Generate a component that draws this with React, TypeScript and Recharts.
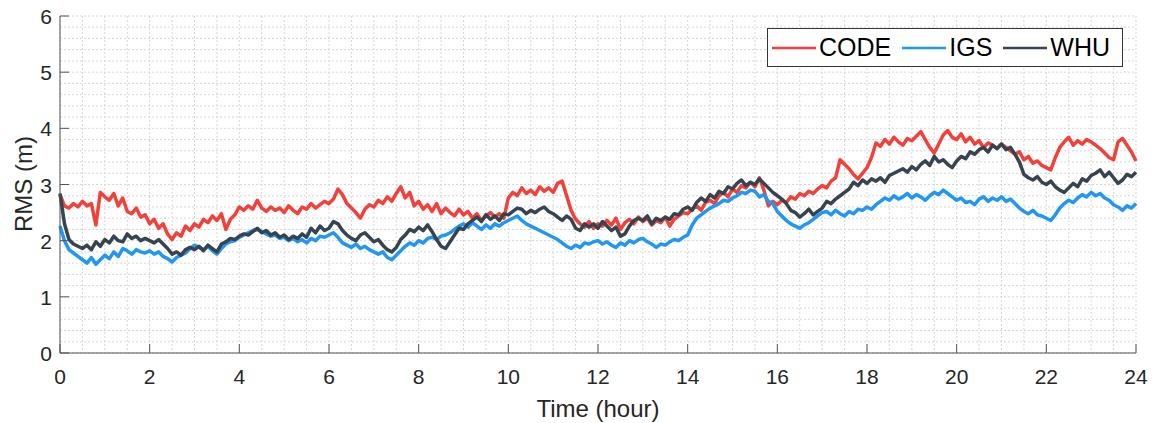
import { CartesianGrid, Line, LineChart, XAxis, YAxis } from "recharts";

// RMS per epoch, one value every 0.1 hour from 0 to 24 h
const codeRms = [
  2.82, 2.62, 2.58, 2.66, 2.60, 2.70, 2.62, 2.66, 2.28, 2.86,
  2.78, 2.72, 2.84, 2.62, 2.76, 2.52, 2.48, 2.58, 2.42, 2.46,
  2.30, 2.38, 2.22, 2.30, 2.12, 2.02, 2.14, 2.08, 2.26, 2.18,
  2.30, 2.24, 2.38, 2.32, 2.44, 2.36, 2.48, 2.20, 2.38, 2.46,
  2.60, 2.54, 2.62, 2.56, 2.72, 2.58, 2.52, 2.60, 2.54, 2.58,
  2.50, 2.62, 2.54, 2.48, 2.60, 2.56, 2.66, 2.58, 2.64, 2.70,
  2.66, 2.74, 2.92, 2.82, 2.66, 2.58, 2.50, 2.40, 2.56, 2.64,
  2.60, 2.72, 2.66, 2.78, 2.70, 2.84, 2.96, 2.76, 2.86, 2.62,
  2.70, 2.56, 2.64, 2.52, 2.66, 2.48, 2.58, 2.50, 2.44, 2.56,
  2.46, 2.52, 2.40, 2.48, 2.36, 2.44, 2.50, 2.42, 2.48, 2.40,
  2.76, 2.86, 2.80, 2.94, 2.84, 2.90, 2.82, 2.96, 2.88, 2.94,
  2.86, 3.02, 3.06, 2.80, 2.54, 2.38, 2.30, 2.24, 2.34, 2.22,
  2.30, 2.26, 2.36, 2.28, 2.40, 2.20, 2.32, 2.38, 2.30, 2.42,
  2.34, 2.40, 2.28, 2.36, 2.32, 2.42, 2.26, 2.38, 2.44, 2.50,
  2.48, 2.56, 2.62, 2.54, 2.68, 2.72, 2.66, 2.80, 2.86, 2.78,
  2.92, 2.86, 2.98, 2.94, 3.04, 2.96, 3.12, 2.90, 2.62, 2.70,
  2.64, 2.72, 2.68, 2.78, 2.74, 2.84, 2.80, 2.88, 2.84, 2.92,
  2.98, 2.94, 3.06, 3.12, 3.44, 3.36, 3.28, 3.18, 3.10, 3.20,
  3.30, 3.48, 3.74, 3.68, 3.80, 3.72, 3.84, 3.76, 3.70, 3.82,
  3.78, 3.86, 3.94, 3.80, 3.66, 3.56, 3.72, 3.88, 3.96, 3.84,
  3.80, 3.90, 3.76, 3.84, 3.72, 3.78, 3.66, 3.74, 3.70, 3.64,
  3.72, 3.66, 3.60, 3.54, 3.58, 3.44, 3.50, 3.38, 3.42, 3.34,
  3.30, 3.26, 3.48, 3.66, 3.76, 3.84, 3.70, 3.78, 3.72, 3.80,
  3.76, 3.70, 3.64, 3.56, 3.48, 3.44, 3.76, 3.82, 3.70, 3.58,
  3.42,
];

const igsRms = [
  2.26, 2.00, 1.84, 1.78, 1.72, 1.66, 1.60, 1.70, 1.58, 1.66,
  1.74, 1.68, 1.80, 1.72, 1.86, 1.82, 1.76, 1.84, 1.80, 1.78,
  1.82, 1.76, 1.80, 1.72, 1.68, 1.62, 1.70, 1.74, 1.78, 1.86,
  1.92, 1.88, 1.84, 1.90, 1.82, 1.76, 1.86, 1.94, 1.98, 2.00,
  2.06, 2.10, 2.14, 2.18, 2.20, 2.16, 2.12, 2.08, 2.10, 2.04,
  2.06, 2.00, 2.04, 1.98, 2.02, 1.96, 2.04, 2.00, 2.08, 2.06,
  2.10, 2.14, 2.06, 1.96, 1.92, 1.88, 1.94, 1.86, 1.90, 1.84,
  1.80, 1.76, 1.80, 1.70, 1.66, 1.74, 1.82, 1.90, 1.96, 1.92,
  2.00, 1.96, 2.04, 2.06, 2.02, 2.08, 2.10, 2.14, 2.20, 2.26,
  2.30, 2.24, 2.32, 2.26, 2.20, 2.28, 2.22, 2.30, 2.26, 2.32,
  2.36, 2.40, 2.44, 2.36, 2.30, 2.26, 2.22, 2.18, 2.14, 2.10,
  2.06, 2.02, 1.96, 1.90, 1.86, 1.92, 1.88, 1.96, 1.94, 1.98,
  2.00, 1.94, 1.98, 1.92, 1.88, 1.96, 1.92, 2.00, 1.96, 2.02,
  2.04, 1.98, 1.94, 1.88, 1.94, 1.92, 1.98, 2.02, 2.00, 2.06,
  2.10, 2.28, 2.40, 2.46, 2.52, 2.58, 2.62, 2.66, 2.72, 2.70,
  2.76, 2.80, 2.86, 2.84, 2.90, 2.88, 2.78, 2.82, 2.70, 2.66,
  2.52, 2.44, 2.36, 2.30, 2.26, 2.22, 2.28, 2.32, 2.38, 2.44,
  2.50, 2.52, 2.46, 2.54, 2.48, 2.44, 2.52, 2.48, 2.56, 2.54,
  2.60, 2.56, 2.64, 2.70, 2.76, 2.72, 2.80, 2.74, 2.78, 2.84,
  2.76, 2.82, 2.78, 2.72, 2.80, 2.86, 2.82, 2.90, 2.84, 2.78,
  2.72, 2.76, 2.68, 2.70, 2.64, 2.74, 2.78, 2.70, 2.76, 2.72,
  2.78, 2.70, 2.74, 2.66, 2.58, 2.52, 2.48, 2.54, 2.46, 2.44,
  2.40, 2.36, 2.46, 2.58, 2.66, 2.72, 2.68, 2.76, 2.82, 2.78,
  2.86, 2.80, 2.84, 2.76, 2.72, 2.64, 2.60, 2.54, 2.62, 2.58,
  2.66,
];

const whuRms = [
  2.84, 2.30, 2.02, 1.94, 1.90, 1.86, 1.92, 1.84, 1.98, 1.90,
  2.02, 1.96, 2.08, 2.00, 1.98, 2.12, 2.04, 2.08, 2.00, 2.04,
  2.00, 1.96, 2.02, 1.94, 1.86, 1.76, 1.80, 1.74, 1.84, 1.88,
  1.84, 1.90, 1.82, 1.92, 1.86, 1.80, 1.94, 1.98, 2.04, 2.02,
  2.08, 2.12, 2.10, 2.16, 2.22, 2.14, 2.18, 2.10, 2.14, 2.06,
  2.10, 2.02, 2.08, 2.04, 2.12, 2.06, 2.22, 2.14, 2.26, 2.18,
  2.22, 2.34, 2.30, 2.18, 2.10, 2.04, 2.00, 2.10, 2.14, 2.06,
  1.98, 2.02, 1.92, 1.84, 1.80, 1.88, 2.02, 2.10, 2.20, 2.16,
  2.24, 2.18, 2.28, 2.16, 2.02, 1.90, 1.86, 1.98, 2.10, 2.22,
  2.20, 2.30, 2.36, 2.42, 2.34, 2.46, 2.38, 2.44, 2.36, 2.48,
  2.46, 2.52, 2.58, 2.56, 2.48, 2.54, 2.50, 2.56, 2.60, 2.52,
  2.48, 2.42, 2.36, 2.44, 2.38, 2.22, 2.18, 2.30, 2.24, 2.30,
  2.22, 2.34, 2.26, 2.18, 2.24, 2.08, 2.12, 2.26, 2.36, 2.40,
  2.36, 2.44, 2.30, 2.40, 2.36, 2.42, 2.38, 2.48, 2.46, 2.56,
  2.60, 2.54, 2.68, 2.76, 2.70, 2.82, 2.76, 2.88, 2.84, 2.96,
  2.92, 3.02, 3.08, 2.98, 3.04, 3.00, 3.10, 3.02, 2.94, 2.86,
  2.80, 2.74, 2.66, 2.54, 2.50, 2.42, 2.48, 2.56, 2.46, 2.52,
  2.58, 2.70, 2.66, 2.74, 2.80, 2.86, 2.92, 3.04, 2.98, 3.08,
  3.02, 3.10, 3.06, 3.12, 3.04, 3.16, 3.20, 3.24, 3.28, 3.22,
  3.32, 3.26, 3.36, 3.42, 3.34, 3.50, 3.40, 3.44, 3.36, 3.30,
  3.42, 3.50, 3.46, 3.58, 3.54, 3.62, 3.66, 3.58, 3.70, 3.64,
  3.72, 3.62, 3.66, 3.54, 3.40, 3.18, 3.12, 3.08, 3.14, 3.04,
  3.00, 3.06, 2.96, 2.90, 2.86, 2.94, 3.02, 2.96, 3.10, 3.06,
  3.16, 3.20, 3.26, 3.14, 3.22, 3.12, 3.02, 3.08, 3.18, 3.14,
  3.22,
];

const xTicks = [0, 2, 4, 6, 8, 10, 12, 14, 16, 18, 20, 22, 24];
const yTicks = [0, 1, 2, 3, 4, 5, 6];
const xMinor = Array.from({ length: 49 }, (_, i) => i * 0.5);
const yMinor = Array.from({ length: 31 }, (_, i) => Math.round(i * 2) / 10);

const series = [
  { key: "CODE", color: "#f2413a" },
  { key: "IGS", color: "#2196f3" },
  { key: "WHU", color: "#37444f" },
];

const data = codeRms.map((v, i) => ({
  time: i / 10,
  CODE: v,
  IGS: igsRms[i],
  WHU: whuRms[i],
}));

const FONT = "'Liberation Sans', Arial, sans-serif";
const AXIS = "#555";
const TXT = "#262626";

const BottomTick = (props: any) => {
  const { x, y, payload } = props;
  return (
    <g>
      <line x1={x} y1={y} x2={x} y2={y - 9} stroke={AXIS} />
      <text x={x} y={y + 31} textAnchor="middle" fontSize={21} fill={TXT} fontFamily={FONT}>
        {payload.value}
      </text>
    </g>
  );
};

const TopTick = (props: any) => {
  const { x, y } = props;
  return <line x1={x} y1={y} x2={x} y2={y + 9} stroke={AXIS} />;
};

const LeftTick = (props: any) => {
  const { x, y, payload } = props;
  return (
    <g>
      <line x1={x} y1={y} x2={x + 9} y2={y} stroke={AXIS} />
      <text x={x - 8} y={y + 8} textAnchor="end" fontSize={21} fill={TXT} fontFamily={FONT}>
        {payload.value}
      </text>
    </g>
  );
};

const RightTick = (props: any) => {
  const { x, y } = props;
  return <line x1={x} y1={y} x2={x - 9} y2={y} stroke={AXIS} />;
};

const YLabel = () => (
  <text
    x={23}
    y={184}
    transform="rotate(-90 23 184)"
    textAnchor="middle"
    dominantBaseline="central"
    fontSize={24}
    fill={TXT}
    fontFamily={FONT}
  >
    RMS (m)
  </text>
);

const LegendBox = () => (
  <div
    style={{
      position: "absolute",
      left: 767,
      top: 28,
      display: "flex",
      alignItems: "center",
      background: "#fff",
      border: "1px solid #333",
      height: 39,
      width: 356,
      boxSizing: "border-box",
      fontFamily: FONT,
      fontSize: 25,
      color: "#000",
      paddingLeft: 4,
    }}
  >
    {series.map((s) => (
      <div key={s.key} style={{ display: "flex", alignItems: "center", marginRight: 11 }}>
        <svg width={44} height={6}>
          <line x1={0} y1={3} x2={44} y2={3} stroke={s.color} strokeWidth={2.5} />
        </svg>
        <span style={{ marginLeft: 3 }}>{s.key}</span>
      </div>
    ))}
  </div>
);

export default function App() {
  return (
    <div style={{ position: "absolute", left: 0, top: 0, width: 1153, height: 423, background: "#fff" }}>
      <LineChart
        width={1153}
        height={423}
        data={data}
        margin={{ top: 16, right: 17, left: 0, bottom: 0 }}
      >
        <CartesianGrid
          stroke="#d6d6d6"
          strokeDasharray="2 2"
          verticalValues={xMinor}
          horizontalValues={yMinor}
        />
        <XAxis
          dataKey="time"
          type="number"
          domain={[0, 24]}
          ticks={xTicks}
          height={70}
          stroke={AXIS}
          tickSize={0}
          tickMargin={0}
          tickLine={false}
          tick={<BottomTick />}
          interval={0}
          label={{ value: "Time (hour)", position: "insideBottom", offset: 6, fontSize: 24, fill: TXT, fontFamily: FONT }}
        />
        <XAxis
          xAxisId="top"
          orientation="top"
          dataKey="time"
          type="number"
          domain={[0, 24]}
          ticks={xTicks}
          height={0}
          stroke={AXIS}
          tickSize={0}
          tickMargin={0}
          tickLine={false}
          tick={<TopTick />}
          interval={0}
        />
        <YAxis
          type="number"
          domain={[0, 6]}
          ticks={yTicks}
          width={60}
          stroke={AXIS}
          tickSize={0}
          tickMargin={0}
          tickLine={false}
          tick={<LeftTick />}
          interval={0}
          label={<YLabel />}
        />
        <YAxis
          yAxisId="right"
          orientation="right"
          type="number"
          domain={[0, 6]}
          ticks={yTicks}
          width={0}
          stroke={AXIS}
          tickSize={0}
          tickMargin={0}
          tickLine={false}
          tick={<RightTick />}
          interval={0}
        />
        {series.map((s) => (
          <Line
            key={s.key}
            type="linear"
            dataKey={s.key}
            stroke={s.color}
            strokeWidth={3.5}
            strokeLinejoin="round"
            dot={false}
            activeDot={false}
            isAnimationActive={false}
          />
        ))}
      </LineChart>
      <LegendBox />
    </div>
  );
}
